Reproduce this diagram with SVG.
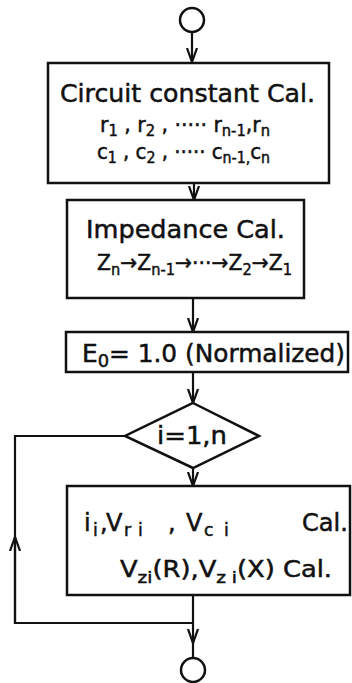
<svg xmlns="http://www.w3.org/2000/svg" width="352" height="683" viewBox="0 0 352 683">
<defs>
<style>
.n{fill:#fff;stroke:#111;stroke-width:2.5}
.c{fill:none;stroke:#111;stroke-width:2.2}
text{font-family:"DejaVu Sans","Liberation Sans",sans-serif;fill:#111;stroke:#111;stroke-width:0.5}
.s{font-size:72%}
</style>
<marker id="a" markerUnits="userSpaceOnUse" markerWidth="16" markerHeight="12" refX="14" refY="6" orient="auto" viewBox="0 0 16 12">
<path d="M0,1 L14,6 L0,11" fill="none" stroke="#111" stroke-width="2.2"/>
</marker>
</defs>
<rect width="352" height="683" fill="#fff"/>
<g id="connectors">
<path class="c" d="M192,32 V62" marker-end="url(#a)"/>
<path class="c" d="M194,183 V200" marker-end="url(#a)"/>
<path class="c" d="M193,298 V332" marker-end="url(#a)"/>
<path class="c" d="M193,372 V403" marker-end="url(#a)"/>
<path class="c" d="M193,468 V486" marker-end="url(#a)"/>
<path class="c" d="M193,595 V643" marker-end="url(#a)"/>
<path class="c" d="M193,640 V658"/>
<path class="c" d="M125,436 H15 V623 H193"/>
<path class="c" d="M15,623 V537" marker-end="url(#a)"/>
</g>
<g id="start"><circle class="n" cx="192" cy="20" r="12"/></g>
<g id="circuit">
<rect class="n" x="48" y="63" width="281" height="120"/>
<text x="60" y="102" font-size="25" textLength="255" lengthAdjust="spacingAndGlyphs">Circuit constant Cal.</text>
<text x="100" y="132" font-size="21" textLength="170" lengthAdjust="spacingAndGlyphs">r<tspan class="s" dy="4">1</tspan><tspan dy="-4"> , r</tspan><tspan class="s" dy="4">2</tspan><tspan dy="-4"> , ····· r</tspan><tspan class="s" dy="4">n-1</tspan><tspan dy="-4">,r</tspan><tspan class="s" dy="4">n</tspan></text>
<text x="97" y="159" font-size="21" textLength="173" lengthAdjust="spacingAndGlyphs">c<tspan class="s" dy="4">1</tspan><tspan dy="-4"> , c</tspan><tspan class="s" dy="4">2</tspan><tspan dy="-4"> , ····· c</tspan><tspan class="s" dy="4">n-1,</tspan><tspan dy="-4">c</tspan><tspan class="s" dy="4">n</tspan></text>
</g>
<g id="impedance">
<rect class="n" x="67" y="200" width="237" height="98"/>
<text x="86" y="238" font-size="25" textLength="199" lengthAdjust="spacingAndGlyphs">Impedance Cal.</text>
<text x="97" y="270" font-size="22" textLength="195" lengthAdjust="spacingAndGlyphs">Z<tspan class="s" dy="5">n</tspan><tspan dy="-5">→Z</tspan><tspan class="s" dy="5">n-1</tspan><tspan dy="-5">→···→Z</tspan><tspan class="s" dy="5">2</tspan><tspan dy="-5">→Z</tspan><tspan class="s" dy="5">1</tspan></text>
</g>
<g id="normalize">
<rect class="n" x="66" y="332" width="282" height="40"/>
<text x="82" y="362" font-size="25" textLength="263" lengthAdjust="spacingAndGlyphs">E<tspan class="s" dy="5">0</tspan><tspan dy="-5">= 1.0 (Normalized)</tspan></text>
</g>
<g id="loop">
<polygon class="n" points="193,403 259,436 193,468 125,436"/>
<text x="157" y="444" font-size="24" textLength="70" lengthAdjust="spacingAndGlyphs">i=1,n</text>
</g>
<g id="calc">
<rect class="n" x="67" y="486" width="283" height="109"/>
<text y="531" font-size="24"><tspan x="84">i</tspan><tspan class="s" x="93" dy="5">i</tspan><tspan x="100" dy="-5">,</tspan><tspan x="106">V</tspan><tspan class="s" x="124" dy="5">r</tspan><tspan class="s" x="138">i</tspan><tspan x="168" dy="-5">,</tspan><tspan x="186">V</tspan><tspan class="s" x="204" dy="5">c</tspan><tspan class="s" x="224">i</tspan><tspan x="302" dy="-5">Cal.</tspan></text>
<text x="120" y="577" font-size="23" textLength="212" lengthAdjust="spacingAndGlyphs">V<tspan class="s" dy="6">zi</tspan><tspan dy="-6">(R),V</tspan><tspan class="s" dy="6">z i</tspan><tspan dy="-6">(X)  Cal.</tspan></text>
</g>
<g id="end"><circle class="n" cx="193" cy="670" r="12"/></g>
</svg>
